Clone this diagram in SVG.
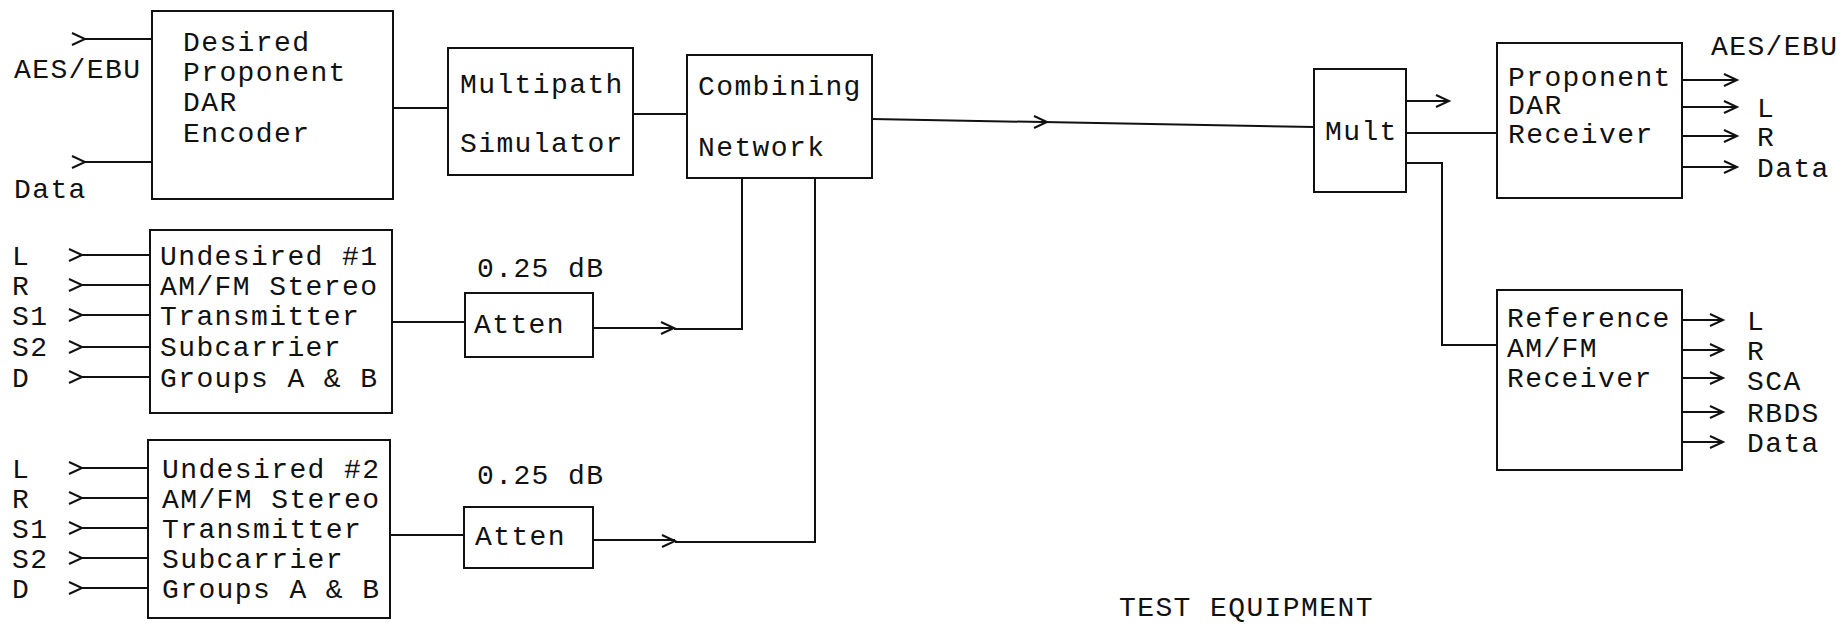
<svg xmlns="http://www.w3.org/2000/svg" width="1843" height="624" viewBox="0 0 1843 624">
<defs>
<style>
.box{fill:none;stroke:#111;stroke-width:2}
.ln{fill:none;stroke:#111;stroke-width:2}
text{font-family:"Liberation Mono","DejaVu Sans Mono",monospace;font-size:28px;letter-spacing:1.4px;fill:#111}
</style>
<path id="chev" d="M-13,-6 L0,0 L-13,6" fill="none" stroke="#111" stroke-width="2"/>
</defs>
<rect width="1843" height="624" fill="#fff"/>

<g id="connectors">
<path class="ln" d="M85,39 H152 M85,162 H152"/>
<use href="#chev" x="85" y="39"/><use href="#chev" x="85" y="162"/>
<path class="ln" d="M393,108 H448"/>
<path class="ln" d="M633,114 H687"/>
<path class="ln" d="M872,119 L1314,127"/>
<use href="#chev" x="1047" y="122"/>
<path class="ln" d="M82,255 H150 M82,285 H150 M82,315 H150 M82,347 H150 M82,377 H150"/>
<use href="#chev" x="82" y="255"/><use href="#chev" x="82" y="285"/><use href="#chev" x="82" y="315"/><use href="#chev" x="82" y="347"/><use href="#chev" x="82" y="377"/>
<path class="ln" d="M82,468 H148 M82,498 H148 M82,528 H148 M82,558 H148 M82,588 H148"/>
<use href="#chev" x="82" y="468"/><use href="#chev" x="82" y="498"/><use href="#chev" x="82" y="528"/><use href="#chev" x="82" y="558"/><use href="#chev" x="82" y="588"/>
<path class="ln" d="M392,322 H465"/>
<path class="ln" d="M593,328 H674 M674,329 H742 V178"/>
<use href="#chev" x="674" y="328"/>
<path class="ln" d="M390,535 H464"/>
<path class="ln" d="M593,540 H675 M675,542 H815 V178"/>
<use href="#chev" x="675" y="541"/>
<path class="ln" d="M1406,101 H1449"/>
<use href="#chev" x="1449" y="101"/>
<path class="ln" d="M1406,133 H1497"/>
<path class="ln" d="M1406,163 H1442 V345 H1497"/>
<path class="ln" d="M1682,80 H1737 M1682,107 H1737 M1682,136 H1737 M1682,167 H1737"/>
<use href="#chev" x="1737" y="80"/><use href="#chev" x="1737" y="107"/><use href="#chev" x="1737" y="136"/><use href="#chev" x="1737" y="167"/>
<path class="ln" d="M1682,320 H1723 M1682,350 H1723 M1682,378 H1723 M1682,412 H1723 M1682,442 H1723"/>
<use href="#chev" x="1723" y="320"/><use href="#chev" x="1723" y="350"/><use href="#chev" x="1723" y="378"/><use href="#chev" x="1723" y="412"/><use href="#chev" x="1723" y="442"/>
</g>

<g id="labels">
<text x="14" y="78">AES/EBU</text>
<text x="14" y="198">Data</text>
<text x="12" y="265">L</text><text x="12" y="295">R</text><text x="12" y="325">S1</text><text x="12" y="356">S2</text><text x="12" y="387">D</text>
<text x="12" y="478">L</text><text x="12" y="508">R</text><text x="12" y="538">S1</text><text x="12" y="568">S2</text><text x="12" y="598">D</text>
<text x="477" y="277">0.25 dB</text>
<text x="477" y="484">0.25 dB</text>
<text x="1711" y="55">AES/EBU</text>
<text x="1757" y="117">L</text><text x="1757" y="146">R</text><text x="1757" y="177">Data</text>
<text x="1747" y="330">L</text><text x="1747" y="360">R</text><text x="1747" y="390">SCA</text><text x="1747" y="422">RBDS</text><text x="1747" y="452">Data</text>
<text x="1119" y="616">TEST EQUIPMENT</text>
</g>

<g id="desired-encoder">
<rect class="box" x="152" y="11" width="241" height="188"/>
<text x="183" y="51">Desired</text><text x="183" y="81">Proponent</text><text x="183" y="111">DAR</text><text x="183" y="142">Encoder</text>
</g>
<g id="multipath-simulator">
<rect class="box" x="448" y="48" width="185" height="127"/>
<text x="460" y="93">Multipath</text><text x="460" y="152">Simulator</text>
</g>
<g id="combining-network">
<rect class="box" x="687" y="55" width="185" height="123"/>
<text x="698" y="95">Combining</text><text x="698" y="156">Network</text>
</g>
<g id="undesired-1">
<rect class="box" x="150" y="230" width="242" height="183"/>
<text x="160" y="265">Undesired #1</text><text x="160" y="295">AM/FM Stereo</text><text x="160" y="325">Transmitter</text><text x="160" y="356">Subcarrier</text><text x="160" y="387">Groups A &amp; B</text>
</g>
<g id="atten-1">
<rect class="box" x="465" y="293" width="128" height="64"/>
<text x="474" y="333">Atten</text>
</g>
<g id="undesired-2">
<rect class="box" x="148" y="440" width="242" height="178"/>
<text x="162" y="478">Undesired #2</text><text x="162" y="508">AM/FM Stereo</text><text x="162" y="538">Transmitter</text><text x="162" y="568">Subcarrier</text><text x="162" y="598">Groups A &amp; B</text>
</g>
<g id="atten-2">
<rect class="box" x="464" y="507" width="129" height="61"/>
<text x="475" y="545">Atten</text>
</g>
<g id="mult">
<rect class="box" x="1314" y="69" width="92" height="123"/>
<text x="1325" y="140">Mult</text>
</g>
<g id="proponent-receiver">
<rect class="box" x="1497" y="43" width="185" height="155"/>
<text x="1508" y="86">Proponent</text><text x="1508" y="114">DAR</text><text x="1508" y="143">Receiver</text>
</g>
<g id="reference-receiver">
<rect class="box" x="1497" y="290" width="185" height="180"/>
<text x="1507" y="327">Reference</text><text x="1507" y="357">AM/FM</text><text x="1507" y="387">Receiver</text>
</g>
</svg>
